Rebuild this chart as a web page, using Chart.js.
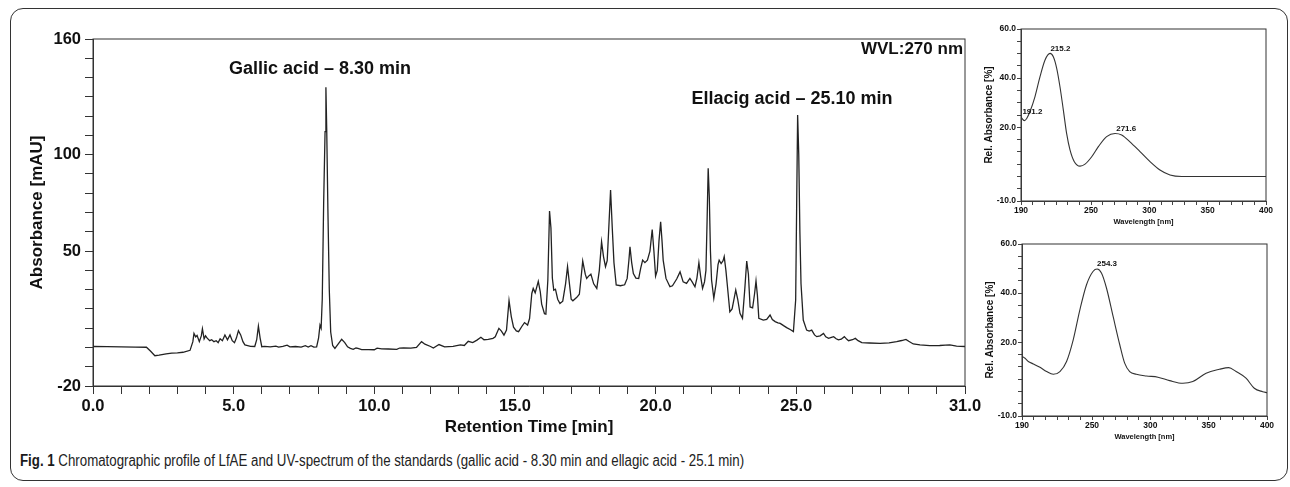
<!DOCTYPE html>
<html>
<head>
<meta charset="utf-8">
<script src="https://cdn.jsdelivr.net/npm/chart.js@4.4.1/dist/chart.umd.min.js"></script>
<style>
  html, body { margin: 0; padding: 0; background: #fff; }
  body { width: 1290px; height: 487px; position: relative; overflow: hidden; font-family: 'Liberation Sans', Arial, sans-serif; }
  .frame { position: absolute; left: 10px; top: 8px; width: 1278px; height: 473px; border: 1.5px solid #333; border-radius: 13px; box-sizing: border-box; }
  .box { position: absolute; }
  #main { left: 10px; top: 20px; width: 975px; height: 425px; }
  #uv1 { left: 970px; top: 15px; width: 310px; height: 215px; }
  #uv2 { left: 971px; top: 230px; width: 310px; height: 215px; }
  .caption { position: absolute; left: 20px; top: 452px; font-family: 'Liberation Sans', Arial, sans-serif; font-size: 16px; color: #222; white-space: nowrap; transform: scaleX(0.83); transform-origin: left center; }
  .caption b { color: #1a1a1a; }
</style>
</head>
<body>
<div class="frame"></div>
<div class="box" id="main"><canvas id="chromChart"></canvas></div>
<div class="box" id="uv1"><canvas id="gallicChart"></canvas></div>
<div class="box" id="uv2"><canvas id="ellagicChart"></canvas></div>
<div class="caption"><b>Fig. 1</b> Chromatographic profile of LfAE and UV-spectrum of the standards (gallic acid - 8.30 min and ellagic acid - 25.1 min)</div>
<script>
// chromatogram, WVL 270 nm
const retentionTime = [
  0.0, 0.5, 1.0, 1.5, 1.9, 2.05, 2.2, 2.35, 2.6, 2.8, 3.0, 3.2, 3.45, 3.55, 3.59, 3.65, 3.7, 3.78, 3.85, 3.89,
  3.95, 4.0, 4.06, 4.15, 4.22, 4.3, 4.38, 4.45, 4.52, 4.6, 4.69, 4.78, 4.87, 4.95, 5.03, 5.1, 5.17, 5.25, 5.33, 5.4,
  5.5, 5.6, 5.75, 5.82, 5.88, 5.94, 6.0, 6.1, 6.3, 6.5, 6.6, 6.75, 6.9, 7.0, 7.2, 7.4, 7.55, 7.65, 7.75, 7.85,
  7.95, 8.02, 8.07, 8.11, 8.15, 8.2, 8.25, 8.28, 8.31, 8.35, 8.4, 8.45, 8.52, 8.6, 8.7, 8.84, 8.95, 9.05, 9.15, 9.25,
  9.35, 9.42, 9.55, 9.8, 10.0, 10.1, 10.26, 10.5, 10.8, 10.9, 11.04, 11.3, 11.5, 11.68, 11.8, 12.0, 12.1, 12.3, 12.5, 12.8,
  13.06, 13.2, 13.34, 13.5, 13.65, 13.79, 13.9, 14.05, 14.22, 14.3, 14.43, 14.52, 14.61, 14.7, 14.79, 14.87, 14.95, 15.05, 15.13, 15.25,
  15.34, 15.45, 15.52, 15.6, 15.65, 15.72, 15.83, 15.9, 15.95, 16.05, 16.1, 16.17, 16.23, 16.28, 16.33, 16.38, 16.44, 16.52, 16.6, 16.7,
  16.8, 16.87, 16.93, 17.0, 17.06, 17.2, 17.29, 17.35, 17.41, 17.5, 17.55, 17.62, 17.7, 17.8, 17.91, 18.0, 18.08, 18.15, 18.22, 18.28,
  18.33, 18.4, 18.46, 18.52, 18.6, 18.75, 18.9, 18.99, 19.05, 19.09, 19.15, 19.21, 19.3, 19.4, 19.47, 19.54, 19.62, 19.71, 19.8, 19.88,
  19.94, 20.0, 20.06, 20.12, 20.18, 20.23, 20.27, 20.37, 20.51, 20.6, 20.75, 20.87, 20.98, 21.1, 21.22, 21.3, 21.4, 21.47, 21.54, 21.6,
  21.67, 21.74, 21.79, 21.83, 21.87, 21.91, 21.95, 21.99, 22.07, 22.15, 22.22, 22.26, 22.33, 22.4, 22.44, 22.5, 22.55, 22.64, 22.72, 22.8,
  22.85, 22.92, 23.0, 23.09, 23.17, 23.24, 23.3, 23.36, 23.45, 23.52, 23.57, 23.62, 23.67, 23.83, 23.95, 24.07, 24.15, 24.25, 24.35, 24.43,
  24.55, 24.66, 24.8, 24.9, 24.98, 25.02, 25.05, 25.09, 25.13, 25.17, 25.25, 25.37, 25.46, 25.55, 25.65, 25.73, 25.85, 25.97, 26.05, 26.15,
  26.25, 26.33, 26.42, 26.5, 26.6, 26.71, 26.8, 26.86, 27.0, 27.1, 27.2, 27.33, 27.6, 27.98, 28.3, 28.57, 28.75, 28.9, 29.0, 29.16,
  29.4, 29.75, 30.1, 30.3, 30.46, 30.7, 31.0
];
const absorbance = [
  0.5, 0.4, 0.3, 0.2, 0.1, -2.0, -4.3, -4.0, -3.3, -2.9, -2.8, -2.5, -1.5, 3, 7.3, 5.5, 6.2, 3, 6, 9.7,
  4.5, 6.0, 4.8, 3.5, 4.0, 3.0, 3.5, 2.5, 4.5, 3.5, 6.5, 4.0, 6.5, 3.5, 2.5, 5, 8.7, 6.5, 3, 1.3,
  1.0, 0.6, 0.5, 4, 11.1, 5, 0.4, 0.6, 0.3, 0.7, 0.2, 0.5, 1.2, 0.3, 0.5, 0.2, 0.9, 0.2, 0.9, 0.2,
  0.3, 5, 11.6, 10, 25, 75, 112, 135, 112, 72, 30, 8, 1, -0.5, 1.5, 4.2, 2.5, 0.3, -0.5, -1.0,
  -0.3, -0.5, -1.1, -1.1, -1.2, -0.4, -0.7, -0.8, -1.0, -0.3, -0.2, -0.4, 0, 3.0, 1.7, 0.5, -0.3, 1.5, 0.3, 0.6,
  1.3, 1.0, 3.2, 2.5, 3.8, 5.3, 4.0, 4.2, 4.7, 5.5, 9.9, 8.5, 6.4, 9, 24.3, 16, 10.5, 8.6, 8.2, 11,
  12.9, 11.6, 15, 28, 30.6, 28.3, 34.3, 29, 22.5, 17.5, 17.3, 35, 70.8, 62, 36, 29.7, 30.2, 25, 22.8, 24,
  33, 41.9, 34, 25, 24.2, 26, 27.6, 36, 44.8, 38, 35.8, 37, 38, 33, 30.6, 40, 54.8, 47, 41.9, 45,
  60, 81.7, 62, 44, 32.4, 32, 32.5, 35.8, 45, 52.2, 44, 38.3, 36, 35.8, 41, 45.3, 44, 45.3, 50, 61.2,
  50, 37, 40, 55, 65.2, 55, 45.3, 35.8, 31.5, 32, 35.5, 39.2, 34, 33.2, 35.8, 34, 31.5, 36, 44, 37,
  30.6, 34, 40, 65, 92.9, 78, 50, 35, 25.5, 33, 43, 45.3, 43.5, 45, 47.1, 40, 32.4, 18.5, 20, 26,
  29.8, 25, 17.7, 15.1, 30, 44.8, 38, 21, 20.5, 28, 34.5, 27, 15.1, 14.2, 14.5, 16.8, 14.5, 13.4, 12.8, 12.5,
  11.3, 10.3, 9.2, 8.2, 24.6, 80, 120.6, 100, 60, 33, 14.2, 9, 8.5, 9, 6.5, 5.6, 6, 7.3, 5.5, 4.7,
  5.2, 5.6, 4.5, 3.9, 4.3, 5.6, 4.2, 3.5, 4, 4.7, 3.5, 2.5, 2.3, 2.1, 2.4, 3.0, 3.6, 4.2, 3.2, 1.8,
  1.3, 0.9, 1.0, 1.2, 1.3, 0.7, 0.5
];
const mainXLabels = [0, 5, 10, 15, 20, 25, 31];
const mainYLabels = [-20, 50, 100, 160];
const peakNames = ['Gallic acid – 8.30 min', 'Ellacig acid – 25.10 min'];
const wvlLabel = 'WVL:270 nm';

// UV spectrum of gallic acid standard
const gallicWavelength = [190, 192.9, 194.9, 197.7, 202, 206.3, 210.6, 214.9, 217.7, 220.6, 223.4, 226.3, 229.1, 232, 235.7, 240.6, 244.9, 250.6, 256.3, 263.4, 270.6, 276.3, 283.4, 292, 300.6, 309.1, 317.7, 327.7, 340, 360, 380, 400];
const gallicRelAbs = [24.1, 22.7, 23.6, 26.4, 32.5, 40.6, 47.4, 50.1, 48.7, 44, 36.5, 27, 17.5, 10.8, 6, 4.2, 5, 8, 12.1, 16.2, 17.5, 16.9, 14.1, 10.1, 6, 2.6, 0.6, 0, 0, 0, 0, 0];
const gallicPeaks = [191.2, 215.2, 271.6];
const gallicPeakAbs = [24.1, 50.1, 17.5];

// UV spectrum of ellagic acid standard
const ellagicWavelength = [190, 192.6, 195.4, 199.7, 205.4, 211.1, 216.8, 222.5, 228.2, 233.9, 239.6, 245.3, 251, 254.4, 258.1, 262.4, 268.1, 273.8, 278, 282.3, 288, 296.6, 306.5, 316.5, 327.9, 336.4, 347.8, 359.2, 367.2, 373.5, 382, 389.1, 396.3, 400];
const ellagicRelAbs = [14.2, 13.5, 12.2, 11.2, 9.8, 8.1, 7, 8.1, 12.2, 21, 33.2, 43.4, 48.9, 49.8, 48.2, 42.1, 30.5, 19, 11.5, 8.1, 7, 6.3, 5.8, 4.4, 3.3, 4, 7.4, 9, 9.7, 8.1, 5.4, 1.3, -0.1, -0.5];
const ellagicPeaks = [254.3];
const ellagicPeakAbs = [49.8];

const uvXLabels = [190, 250, 300, 350, 400];
const uvYLabels = [-10, 20, 40, 60];

Chart.defaults.font.family = "'Liberation Sans', Arial, sans-serif";
Chart.defaults.color = '#111';

const frame = {
  id: 'frame',
  afterDatasetsDraw(chart) {
    const { ctx, chartArea: a } = chart;
    ctx.save();
    ctx.strokeStyle = '#333';
    ctx.lineWidth = 1;
    ctx.strokeRect(a.left, a.top, a.right - a.left, a.bottom - a.top);
    ctx.restore();
  }
};

const chromLabels = {
  id: 'chromLabels',
  afterDraw(chart) {
    const { ctx, chartArea: a, scales: { x, y } } = chart;
    ctx.save();
    ctx.fillStyle = '#111';
    ctx.textBaseline = 'middle';
    ctx.font = "bold 18px 'Liberation Sans', Arial, sans-serif";
    ctx.textAlign = 'center';
    ctx.fillText(peakNames[0], x.getPixelForValue(8.07), y.getPixelForValue(144.4));
    ctx.fillText(peakNames[1], x.getPixelForValue(24.85), y.getPixelForValue(128.9));
    ctx.font = "bold 17px 'Liberation Sans', Arial, sans-serif";
    ctx.textAlign = 'right';
    ctx.fillText(wvlLabel, a.right - 2, a.top + 10);
    ctx.restore();
  }
};

const peakLabels = (nm, val) => ({
  id: 'peakLabels',
  afterDraw(chart) {
    const { ctx, scales: { x, y } } = chart;
    ctx.save();
    ctx.fillStyle = '#111';
    ctx.font = "bold 8px 'Liberation Sans', Arial, sans-serif";
    ctx.textAlign = 'left';
    ctx.textBaseline = 'bottom';
    nm.forEach((w, i) => {
      ctx.fillText(w.toFixed(1), x.getPixelForValue(w), y.getPixelForValue(val[i]) - 1);
    });
    ctx.restore();
  }
});

new Chart(document.getElementById('chromChart'), {
  type: 'line',
  data: {
    datasets: [{
      data: retentionTime.map((t, i) => ({ x: t, y: absorbance[i] })),
      borderColor: '#222',
      borderWidth: 1.3,
      pointRadius: 0,
      fill: false,
      tension: 0
    }]
  },
  options: {
    responsive: true,
    maintainAspectRatio: false,
    animation: false,
    layout: { padding: { top: 19, right: 20, left: 0, bottom: 0 } },
    plugins: { legend: { display: false }, tooltip: { enabled: false } },
    scales: {
      x: {
        type: 'linear',
        min: 0,
        max: 31,
        afterFit: (s) => { s.height = 59; },
        ticks: {
          stepSize: 1,
          autoSkip: false,
          maxRotation: 0,
          padding: 3,
          font: { size: 16.5, weight: 'bold' },
          callback: (v) => mainXLabels.includes(v) ? v.toFixed(1) : ''
        },
        grid: { drawOnChartArea: false, tickLength: 8, color: '#333' },
        border: { color: '#333' },
        title: { display: true, text: 'Retention Time [min]', font: { size: 17, weight: 'bold' }, padding: { top: 0, bottom: 7 } }
      },
      y: {
        min: -20,
        max: 160,
        afterFit: (s) => { s.width = 83; },
        ticks: {
          stepSize: 10,
          autoSkip: false,
          padding: 4,
          font: { size: 16.5, weight: 'bold' },
          callback: (v) => mainYLabels.includes(v) ? String(v) : ''
        },
        grid: { drawOnChartArea: false, tickLength: 8, color: '#333' },
        border: { color: '#333' },
        title: { display: true, text: 'Absorbance [mAU]', font: { size: 17, weight: 'bold' }, padding: { top: 17, bottom: 0 } }
      }
    }
  },
  plugins: [frame, chromLabels]
});

function uvChart(id, wl, rel, nm, val) {
  return new Chart(document.getElementById(id), {
    type: 'line',
    data: {
      datasets: [{
        data: wl.map((w, i) => ({ x: w, y: rel[i] })),
        borderColor: '#333',
        borderWidth: 1.1,
        pointRadius: 0,
        fill: false,
        tension: 0.4,
        cubicInterpolationMode: 'monotone'
      }]
    },
    options: {
      responsive: true,
      maintainAspectRatio: false,
      animation: false,
      layout: { padding: { top: 14, right: 14, left: 0, bottom: 0 } },
      plugins: { legend: { display: false }, tooltip: { enabled: false } },
      scales: {
        x: {
          type: 'linear',
          min: 190,
          max: 400,
          afterFit: (s) => { s.height = 29; },
          ticks: {
            stepSize: 10,
            autoSkip: false,
            maxRotation: 0,
            padding: 1,
            font: { size: 8.5, weight: 'bold' },
            callback: (v) => uvXLabels.includes(v) ? String(v) : ''
          },
          grid: { drawOnChartArea: false, tickLength: 4, color: '#444' },
          border: { color: '#444' },
          title: { display: true, text: 'Wavelength [nm]', font: { size: 7.5, weight: 'bold' }, padding: { top: 0, bottom: 4 } }
        },
        y: {
          min: -10,
          max: 60,
          afterFit: (s) => { s.width = 51; },
          ticks: {
            stepSize: 5,
            autoSkip: false,
            padding: 1,
            font: { size: 8.5, weight: 'bold' },
            callback: (v) => uvYLabels.includes(v) ? v.toFixed(1) : ''
          },
          grid: { drawOnChartArea: false, tickLength: 4, color: '#444' },
          border: { color: '#444' },
          title: { display: true, text: 'Rel. Absorbance [%]', font: { size: 10, weight: 'bold' }, padding: { top: 13, bottom: 0 } }
        }
      }
    },
    plugins: [frame, peakLabels(nm, val)]
  });
}

uvChart('gallicChart', gallicWavelength, gallicRelAbs, gallicPeaks, gallicPeakAbs);
uvChart('ellagicChart', ellagicWavelength, ellagicRelAbs, ellagicPeaks, ellagicPeakAbs);
</script>
</body>
</html>
